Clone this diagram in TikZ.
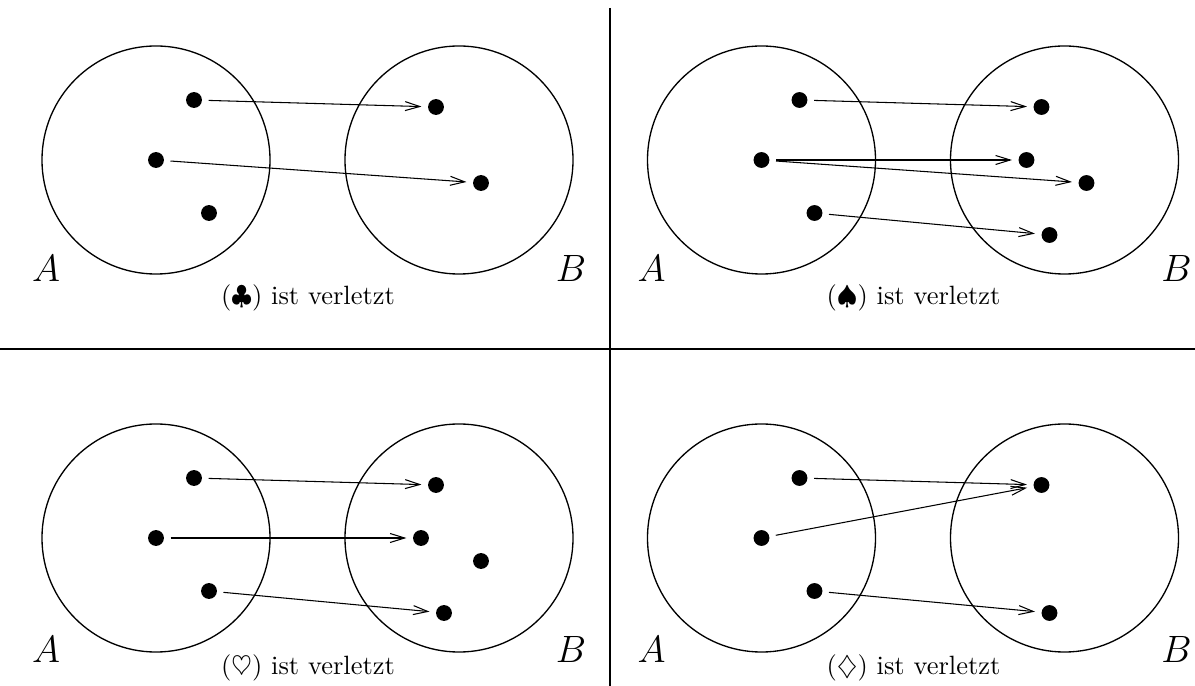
\documentclass[tikz,border=0pt]{standalone}
\usetikzlibrary{arrows.meta}
\begin{document}
\begin{tikzpicture}[x=0.378pt,y=-0.378pt,
  set/.style={draw,circle,minimum size=86.2pt,inner sep=0pt,line width=0.5pt},
  elem/.style={circle,fill=black,inner sep=0pt,minimum size=6pt},
  map/.style={-{Straight Barb[length=5.5pt,width=3.4pt]},line width=0.4pt,shorten <=2.3pt,shorten >=2.3pt},
  setname/.style={font=\Large},
  caption/.style={font=\normalsize},
  divider/.style={line width=0.4pt}]
\useasboundingbox (0,0) rectangle (1195,686);

% dividers
\coordinate (vtop) at (610,8);
\coordinate (vbot) at (610,686);
\coordinate (hleft) at (0,349);
\coordinate (hright) at (1195,349);
\draw[divider] (vtop) -- (vbot);
\draw[divider] (hleft) -- (hright);

% quadrant 1 (top left)
\begin{scope}
\node[set] (qaA) at (156,160) {};
\node[set] (qaB) at (459,160) {};
\node[elem] (qa1) at (194,100) {};
\node[elem] (qa2) at (156,160) {};
\node[elem] (qa3) at (209,213) {};
\node[elem] (qb1) at (436,107) {};
\node[elem] (qb3) at (481,183) {};
\draw[map] (qa1) -- (qb1);
\draw[map] (qa2) -- (qb3);
\node[setname] (qaAl) at (46,268) {$A$};
\node[setname] (qaBl) at (571,268) {$B$};
\node[caption] (qacap) at (308,297.5) {($\clubsuit$) ist verletzt};
\end{scope}

% quadrant 2 (top right)
\begin{scope}[shift={(605.5,0)}]
\node[set] (rA) at (156,160) {};
\node[set] (rB) at (459,160) {};
\node[elem] (ra1) at (194,100) {};
\node[elem] (ra2) at (156,160) {};
\node[elem] (ra3) at (209,213) {};
\node[elem] (rb1) at (436,107) {};
\node[elem] (rb2) at (421,160) {};
\node[elem] (rb3) at (481,183) {};
\node[elem] (rb4) at (444,235) {};
\draw[map] (ra1) -- (rb1);
\draw[map] (ra2) -- (rb2);
\draw[map] (ra2) -- (rb3);
\draw[map] (ra3) -- (rb4);
\node[setname] (rAl) at (46,268) {$A$};
\node[setname] (rBl) at (571,268) {$B$};
\node[caption] (rcap) at (308,297.5) {($\spadesuit$) ist verletzt};
\end{scope}

% quadrant 3 (bottom left)
\begin{scope}[shift={(0,378)}]
\node[set] (sA) at (156,160) {};
\node[set] (sB) at (459,160) {};
\node[elem] (sa1) at (194,100) {};
\node[elem] (sa2) at (156,160) {};
\node[elem] (sa3) at (209,213) {};
\node[elem] (sb1) at (436,107) {};
\node[elem] (sb2) at (421,160) {};
\node[elem] (sb3) at (481,183) {};
\node[elem] (sb4) at (444,235) {};
\draw[map] (sa1) -- (sb1);
\draw[map] (sa2) -- (sb2);
\draw[map] (sa3) -- (sb4);
\node[setname] (sAl) at (46,271) {$A$};
\node[setname] (sBl) at (571,271) {$B$};
\node[caption] (scap) at (308,290) {($\heartsuit$) ist verletzt};
\end{scope}

% quadrant 4 (bottom right)
\begin{scope}[shift={(605.5,378)}]
\node[set] (tA) at (156,160) {};
\node[set] (tB) at (459,160) {};
\node[elem] (ta1) at (194,100) {};
\node[elem] (ta2) at (156,160) {};
\node[elem] (ta3) at (209,213) {};
\node[elem] (tb1) at (436,107) {};
\node[elem] (tb4) at (444,235) {};
\draw[map] (ta1) -- (tb1);
\draw[map] (ta2) -- (tb1);
\draw[map] (ta3) -- (tb4);
\node[setname] (tAl) at (46,271) {$A$};
\node[setname] (tBl) at (571,271) {$B$};
\node[caption] (tcap) at (308,290) {($\diamondsuit$) ist verletzt};
\end{scope}
\end{tikzpicture}
\end{document}
